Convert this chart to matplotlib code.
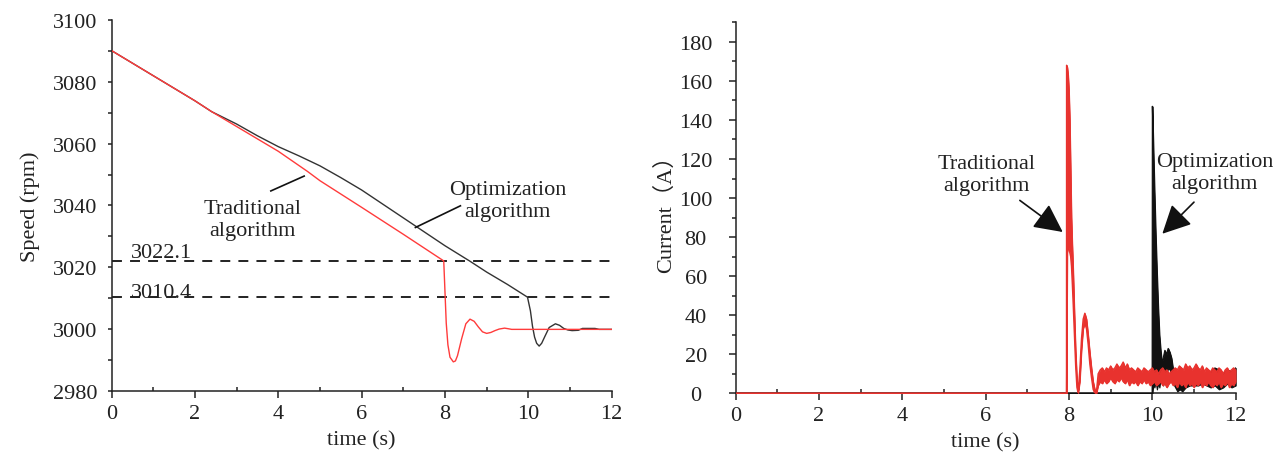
import matplotlib
matplotlib.use("Agg")
import matplotlib.pyplot as plt
from matplotlib.ticker import MultipleLocator

plt.rcParams.update({
    "font.family": ["Liberation Serif", "Noto Sans CJK SC", "DejaVu Sans"],
    "font.size": 16,
    "text.color": "#222222",
    "axes.labelcolor": "#222222",
    "xtick.color": "#222222",
    "ytick.color": "#222222",
})

# ---- speed data (left panel) ----
spd_t_trad = [0, 1, 2, 2.4, 3, 4, 4.7, 5, 6, 7, 7.97, 8.0, 8.03, 8.07, 8.12,
              8.2, 8.25, 8.3, 8.4, 8.5, 8.6, 8.7, 8.8, 8.9, 9.0, 9.1, 9.2,
              9.3, 9.43, 9.52, 9.6, 12]
spd_trad = [3090, 3081.9, 3073.8, 3070.3, 3065.5, 3057.5, 3051, 3048, 3039.4,
            3030.7, 3022.1, 3012, 3002, 2995, 2991, 2989.5, 2989.8, 2991.5,
            2997, 3001.8, 3003.3, 3002.6, 3000.8, 2999.2, 2998.7, 2999.0,
            2999.6, 3000.1, 3000.4, 3000.2, 3000, 3000]

spd_t_opt = [0, 1, 2, 2.4, 3, 3.5, 4, 4.5, 5, 5.5, 6, 6.5, 7, 7.5, 8, 8.6, 9,
             9.5, 9.98, 10.05, 10.1, 10.15, 10.2, 10.26, 10.32, 10.4, 10.5,
             10.65, 10.75, 10.85, 10.95, 11.05, 11.2, 11.3, 11.6, 11.7, 12]
spd_opt = [3090, 3081.9, 3073.8, 3070.3, 3066.3, 3062.5, 3059, 3056, 3052.8,
           3049, 3045, 3040.5, 3036, 3031.5, 3027, 3022, 3018.5, 3014.5,
           3010.4, 3006, 3001, 2997.5, 2995.5, 2994.6, 2995.5, 2997.8, 3000.6,
           3001.8, 3001.3, 3000.3, 2999.8, 2999.6, 2999.7, 3000.3, 3000.3,
           3000, 3000]

thresholds = [3022.1, 3010.4]
threshold_labels = ["3022.1", "3010.4"]

# ---- current data (right panel), upper/lower envelopes of the traces ----
cur_t_trad = [0, 7.94, 7.942, 7.96, 7.98, 8.00, 8.02, 8.04, 8.06, 8.08, 8.10,
              8.13, 8.16, 8.19, 8.22, 8.26, 8.30, 8.34, 8.38, 8.42, 8.46,
              8.50, 8.54, 8.58, 8.62, 8.66,
              8.70, 8.75, 8.80, 8.85, 8.90, 8.95, 9.00,
              9.05, 9.10, 9.15, 9.20, 9.25, 9.30, 9.35, 9.40, 9.45, 9.50,
              9.55, 9.60, 9.65, 9.70, 9.75, 9.80, 9.85, 9.90, 9.95, 10.00,
              10.05, 10.10, 10.15, 10.20, 10.25, 10.30, 10.35, 10.40, 10.45,
              10.50, 10.55, 10.60, 10.65, 10.70, 10.75, 10.80, 10.85, 10.90,
              10.95, 11.00, 11.05, 11.10, 11.15, 11.20, 11.25, 11.30, 11.35,
              11.40, 11.45, 11.50, 11.55, 11.60, 11.65, 11.70, 11.75, 11.80,
              11.85, 11.90, 11.95, 12.00]
cur_trad_hi = [0, 0, 168, 167, 163, 155, 140, 115, 90, 76, 64, 42, 22, 8, 1,
               12, 28, 38, 41, 38, 30, 21, 13, 6, 2, 1,
               10, 12, 13, 11, 13, 12, 14,
               12, 13, 15, 13, 14, 16, 13, 15, 12, 13,
               12, 11, 13, 12, 11, 13, 12, 11, 12, 13,
               11, 12, 10, 12, 13, 11, 12, 10, 11, 12,
               13, 12, 14, 13, 12, 15, 13, 14, 12, 13,
               15, 13, 12, 14, 11, 13, 12, 11, 13, 12,
               11, 13, 12, 10, 12, 13, 11, 12, 13, 12]
cur_trad_lo = [0, 0, 0, 72, 75, 74, 72, 70, 65, 56, 46, 30, 14, 3, 0,
               6, 22, 33, 36, 33, 25, 15, 8, 2, 0, 0,
               4, 6, 5, 7, 5, 6, 8,
               6, 5, 7, 6, 8, 6, 5, 7, 4, 6,
               5, 6, 4, 6, 5, 7, 5, 6, 4, 5,
               6, 4, 5, 6, 4, 5, 3, 5, 6, 4,
               5, 3, 6, 4, 5, 3, 6, 4, 5, 3,
               5, 4, 6, 3, 5, 4, 6, 4, 3, 5,
               4, 6, 3, 5, 4, 6, 3, 5, 4, 6]

cur_t_opt = [0, 9.995, 10.00, 10.02, 10.05, 10.08, 10.11, 10.14, 10.17, 10.20,
             10.23, 10.26, 10.30, 10.34, 10.38, 10.42, 10.46, 10.50, 10.55,
             10.60, 10.66, 10.72, 10.80, 10.90, 11.00, 11.10, 11.20, 11.30,
             11.40, 11.50, 11.60, 11.70, 11.80, 11.90, 12.00]
cur_opt_hi = [0, 0, 147, 130, 105, 82, 62, 44, 30, 22, 16, 18, 22, 20, 23, 21,
              18, 12, 9, 8, 8, 7, 8, 9, 9, 8, 10, 9, 11, 13, 12, 10, 12, 11, 13]
cur_opt_lo = [0, 0, 0, 5, 3, 6, 2, 5, 3, 8, 6, 4, 12, 10, 13, 12, 8, 5, 3, 1,
              2, 1, 3, 4, 4, 4, 5, 4, 3, 4, 2, 3, 5, 3, 4]

RED_SPD = "#ff3b3b"
RED_CUR = "#e8322e"
BLACK = "#111111"
TXT = "#222222"

fig = plt.figure(figsize=(12.85, 4.56), dpi=100)
ax1 = fig.add_axes([0.0869, 0.1397, 0.3891, 0.8149])
ax2 = fig.add_axes([0.5725, 0.1353, 0.3891, 0.8136])


def style_axis(ax, ylen, ypad):
    ax.spines["top"].set_visible(False)
    ax.spines["right"].set_visible(False)
    for s in ("left", "bottom"):
        ax.spines[s].set_linewidth(1.1)
        ax.spines[s].set_color(TXT)
    ax.xaxis.set_major_locator(MultipleLocator(2))
    ax.xaxis.set_minor_locator(MultipleLocator(1))
    ax.tick_params(axis="x", which="major", direction="out", length=5,
                   width=1.1, pad=4, labelsize=16)
    ax.tick_params(axis="x", which="minor", direction="in", length=3, width=1.1)
    ax.tick_params(axis="y", which="major", direction="out", length=ylen,
                   width=1.1, pad=ypad, labelsize=16)
    ax.tick_params(axis="y", which="minor", direction="out", length=3, width=1.1)
    for lab in ax.get_yticklabels():
        lab.set_horizontalalignment("center")
    ax.set_xlim(0, 12)
    ax.set_xlabel("time (s)", fontsize=16, labelpad=5)


# ---- left: speed ----
for y in thresholds:
    ax1.axhline(y, color=BLACK, lw=1.3, linestyle=(0, (5.5, 4.5)), zorder=1)
ax1.text(1.2, thresholds[0] + 1.3, threshold_labels[0], ha="center",
         va="baseline", fontsize=16)
ax1.text(1.2, thresholds[1], threshold_labels[1], ha="center",
         va="baseline", fontsize=16)

ax1.plot(spd_t_opt, spd_opt, color="#333333", lw=1.0, zorder=2)
ax1.plot(spd_t_trad, spd_trad, color=RED_SPD, lw=1.0, zorder=3)

ax1.set_ylim(2980, 3100)
ax1.yaxis.set_major_locator(MultipleLocator(20))
ax1.yaxis.set_minor_locator(MultipleLocator(10))
style_axis(ax1, 3, 23.4)
ax1.set_ylabel("Speed (rpm)", fontsize=16, labelpad=9)

ax1.text(3.39, 3035.5, "Traditional\nalgorithm", ha="center", va="center",
         fontsize=16, linespacing=1.2)
ax1.plot([3.82, 4.62], [3044.7, 3049.5], color=BLACK, lw=1.2)
ax1.text(9.51, 3041.5, "Optimization\nalgorithm", ha="center", va="center",
         fontsize=16, linespacing=1.2)
ax1.plot([7.29, 8.37], [3032.9, 3039.9], color=BLACK, lw=1.2)

# ---- right: current ----
ax2.fill_between(cur_t_opt, cur_opt_lo, cur_opt_hi, color=BLACK, lw=0.8,
                 edgecolor=BLACK, zorder=2)
ax2.plot(cur_t_opt, cur_opt_hi, color=BLACK, lw=0.8, zorder=2)
ax2.fill_between(cur_t_trad, cur_trad_lo, cur_trad_hi, color=RED_CUR, lw=0.6,
                 edgecolor=RED_CUR, zorder=3)
ax2.plot(cur_t_trad, cur_trad_hi, color=RED_CUR, lw=1.0, zorder=3)
ax2.plot(cur_t_trad, cur_trad_lo, color=RED_CUR, lw=1.0, zorder=3)

ax2.set_ylim(0, 190)
ax2.yaxis.set_major_locator(MultipleLocator(20))
ax2.yaxis.set_minor_locator(MultipleLocator(10))
style_axis(ax2, 5, 23.8)
ax2.set_ylabel("Current（A）", fontsize=16, labelpad=2)
for s in ax2.spines.values():
    s.set_zorder(1)

ax2.text(6.03, 112, "Traditional\nalgorithm", ha="center", va="center",
         fontsize=16, linespacing=1.2)
ax2.annotate("", xy=(7.85, 82.6), xytext=(6.82, 98.8),
             arrowprops=dict(arrowstyle="-|>,head_length=1.1,head_width=0.55",
                             color=BLACK, lw=1.2, shrinkA=0, shrinkB=0))
ax2.text(11.49, 113, "Optimization\nalgorithm", ha="center", va="center",
         fontsize=16, linespacing=1.2, clip_on=False)
ax2.annotate("", xy=(10.24, 81.7), xytext=(11.0, 97.9),
             arrowprops=dict(arrowstyle="-|>,head_length=1.1,head_width=0.55",
                             color=BLACK, lw=1.2, shrinkA=0, shrinkB=0))

fig.savefig("out.png", dpi=100, facecolor="white")
